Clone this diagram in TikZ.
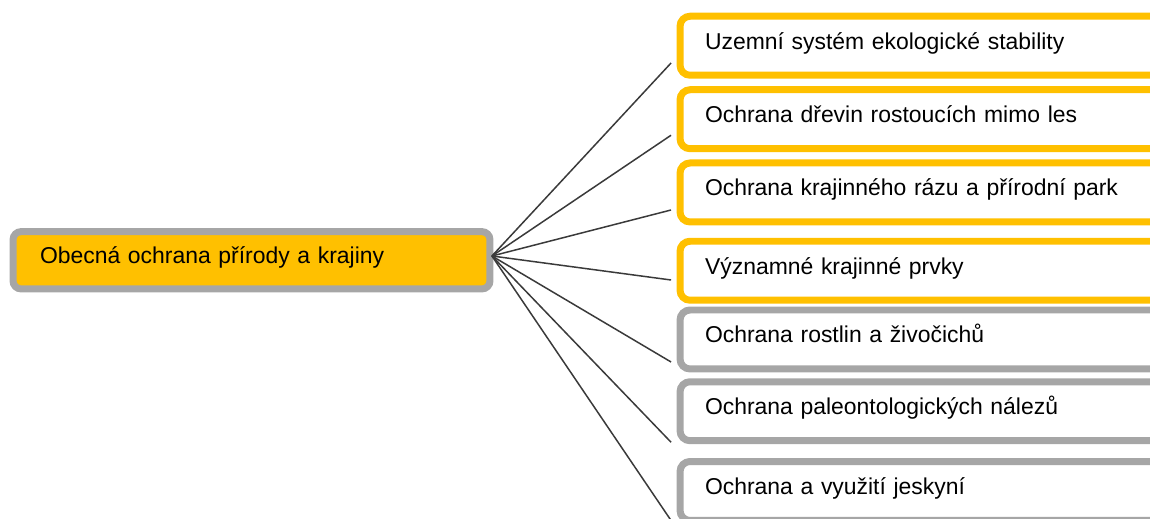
\documentclass[tikz,border=0pt]{standalone}
\usepackage{fontspec}
\setmainfont{Liberation Sans}
\usepackage{xcolor}
\usepackage{tikz}
\usetikzlibrary{positioning,calc}

\definecolor{boxgold}{HTML}{FFC000}
\definecolor{boxgray}{HTML}{A6A6A6}
\definecolor{linkgray}{HTML}{3A3A3A}

\begin{document}
\begin{tikzpicture}[
    x=0.02cm, y=-0.02cm,
    font=\fontsize{13.05}{16}\selectfont,
    rootbox/.style={rectangle, draw=boxgray, fill=boxgold, line width=0.14cm, rounded corners=0.16cm, minimum width=9.54cm, minimum height=1.146cm, text width=8.46cm, inner xsep=0.54cm, inner ysep=0pt, align=left, text height=0.9em, text depth=0.52em},
    leaf/.style={rectangle, draw=#1, fill=white, line width=0.14cm, rounded corners=0.2cm, minimum width=10.4cm, minimum height=1.18cm, text width=9.4cm, inner xsep=0.5cm, inner ysep=0pt, align=left, text height=0.9em, text depth=0.52em},
    link/.style={draw=linkgray, line width=0.03cm}
]
    \useasboundingbox (0,0) rectangle (1150,519);
    \clip (0,0) rectangle (1150,519);

    \node [rootbox] (root) at (251.5,260.3) {Obecná ochrana přírody a krajiny};

    \node [leaf=boxgold] (c1) at (940,45.75) {Uzemní systém ekologické stability};
    \node [leaf=boxgold] (c2) at (940,119.25) {Ochrana dřevin rostoucích mimo les};
    \node [leaf=boxgold] (c3) at (940,192.5) {Ochrana krajinného rázu a přírodní park};
    \node [leaf=boxgold] (c4) at (940,270.75) {Významné krajinné prvky};
    \node [leaf=boxgray] (c5) at (940,339.5) {Ochrana rostlin a živočichů};
    \node [leaf=boxgray] (c6) at (940,411.25) {Ochrana paleontologických nálezů};
    \node [leaf=boxgray] (c7) at (940,491) {Ochrana a využití jeskyní};

    \coordinate (hub) at ($(root.east)+(-1.5,-4.3)$);
    \foreach \i/\dy in {1/17.25, 2/16, 3/17.5, 4/9.25, 5/22.5, 6/31, 7/29.5}
        \draw [link] (hub) -- ($(c\i.west)+(-5.5,\dy)$);
\end{tikzpicture}
\end{document}
